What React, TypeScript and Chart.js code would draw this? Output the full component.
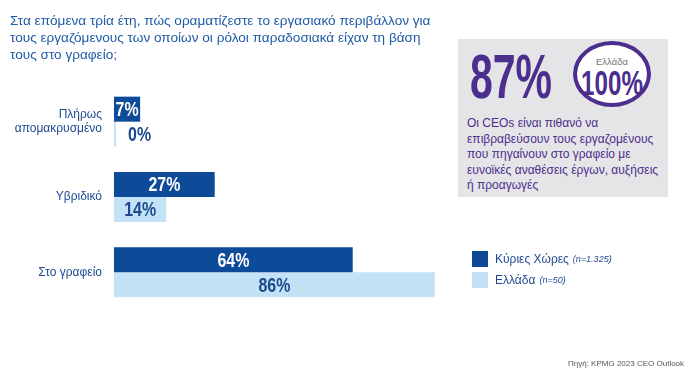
import React, { useEffect, useRef } from "react";
import { Chart, registerables } from "chart.js";

Chart.register(...registerables);

const categories: (string | string[])[] = [["Πλήρως", "απομακρυσμένο"], "Υβριδικό", "Στο γραφείο"];
const mainCountries = [7, 27, 64];
const greece = [0, 14, 86];
const seriesNames = ["Κύριες Χώρες", "Ελλάδα"];
const seriesNotes = ["(n=1.325)", "(n=50)"];
const titleLines = [
  "Στα επόμενα τρία έτη, πώς οραματίζεστε το εργασιακό περιβάλλον για",
  "τους εργαζόμενους των οποίων οι ρόλοι παραδοσιακά είχαν τη βάση",
  "τους στο γραφείο;",
];
const panelBig = "87%";
const panelCircleLabel = "Ελλάδα";
const panelCircleValue = "100%";
const panelLines = [
  "Οι CEOs είναι πιθανό να",
  "επιβραβεύσουν τους εργαζομένους",
  "που πηγαίνουν στο γραφείο με",
  "ευνοϊκές αναθέσεις έργων, αυξήσεις",
  "ή προαγωγές",
];
const sourceText = "Πηγή: KPMG 2023 CEO Outlook";

const DARK = "#0d4a98";
const LIGHT = "#c4e2f6";
const TEXTBLUE = "#1f4a92";
const PURPLE = "#4b2e8e";
const SANS = "'Liberation Sans', Arial, sans-serif";
const LABEL_SCALE = 0.76;

const labelPlugin = {
  id: "barLabels",
  afterDatasetsDraw(chart: any) {
    const ctx = chart.ctx;
    ctx.save();
    ctx.font = `bold 21px ${SANS}`;
    ctx.textBaseline = "middle";
    chart.data.datasets.forEach((ds: any, di: number) => {
      const meta = chart.getDatasetMeta(di);
      meta.data.forEach((el: any, i: number) => {
        const v = ds.data[i];
        const txt = `${v}%`;
        const w = ctx.measureText(txt).width * LABEL_SCALE;
        const left = Math.min(el.base, el.x);
        const right = Math.max(el.base, el.x);
        const barW = right - left;
        let cx: number;
        if (barW >= w + 1) {
          cx = (left + right) / 2;
          ctx.fillStyle = di === 0 ? "#ffffff" : "#1b4a8e";
        } else {
          cx = right + 12 + w / 2;
          ctx.fillStyle = "#1b4a8e";
        }
        ctx.save();
        ctx.translate(cx, el.y + 1);
        ctx.scale(LABEL_SCALE, 1);
        ctx.textAlign = "center";
        ctx.fillText(txt, 0, 0);
        ctx.restore();
      });
    });
    ctx.restore();
  },
};

export default function App() {
  const ref = useRef<HTMLCanvasElement | null>(null);
  useEffect(() => {
    if (!ref.current) return;
    const chart = new Chart(ref.current, {
      type: "bar",
      data: {
        labels: categories,
        datasets: [
          {
            label: seriesNames[0],
            data: mainCountries,
            backgroundColor: DARK,
            categoryPercentage: 0.664,
            barPercentage: 1,
          },
          {
            label: seriesNames[1],
            data: greece,
            backgroundColor: LIGHT,
            categoryPercentage: 0.664,
            barPercentage: 1,
            minBarLength: 2,
          },
        ],
      },
      options: {
        indexAxis: "y",
        animation: false,
        responsive: false,
        maintainAspectRatio: false,
        layout: { padding: { top: 84, bottom: 72, right: 213, left: 0 } },
        plugins: {
          legend: { display: false },
          tooltip: { enabled: false },
          title: { display: false },
        },
        scales: {
          x: { display: false, min: 0, max: 100 },
          y: {
            grid: { display: false, drawTicks: false },
            border: { display: false },
            ticks: {
              color: TEXTBLUE,
              font: { family: SANS, size: 12, lineHeight: 1.15 },
              padding: 12,
            },
            afterFit(scale: any) {
              scale.width = 114;
            },
          },
        },
      },
      plugins: [labelPlugin],
    } as any);
    return () => chart.destroy();
  }, []);

  return (
    <div style={{ position: "absolute", left: 0, top: 0, width: 700, height: 382, background: "#fff", overflow: "hidden", fontFamily: SANS }}>
      <canvas ref={ref} width={700} height={382} style={{ position: "absolute", left: 0, top: 0 }} />
      <div style={{ position: "absolute", left: 10, top: 12, color: "#1f5aa6", fontSize: 13.6, lineHeight: "17px", whiteSpace: "nowrap" }}>
        {titleLines.map((l, i) => (
          <div key={i}>{l}</div>
        ))}
      </div>
      <div style={{ position: "absolute", left: 458, top: 39, width: 210, height: 158, background: "#e5e5e7" }}>
        <div style={{ position: "absolute", left: 12, top: 2, color: PURPLE, fontWeight: "bold", fontSize: 63, lineHeight: "70px", transform: "scaleX(0.65)", transformOrigin: "left center", whiteSpace: "nowrap" }}>
          {panelBig}
        </div>
        <div style={{ position: "absolute", left: 115, top: 2, width: 70, height: 58, border: `4px solid ${PURPLE}`, borderRadius: "50%", background: "#fff" }}>
          <div style={{ position: "absolute", left: 0, width: 70, top: 11, textAlign: "center", color: "#777", fontSize: 9.5, lineHeight: "11px" }}>{panelCircleLabel}</div>
          <div style={{ position: "absolute", left: -10, width: 90, top: 19, textAlign: "center", color: PURPLE, fontWeight: "bold", fontSize: 35, lineHeight: "38px", transform: "scaleX(0.69)", whiteSpace: "nowrap" }}>
            {panelCircleValue}
          </div>
        </div>
        <div style={{ position: "absolute", left: 9, top: 77, color: PURPLE, fontSize: 12, lineHeight: "15.6px", whiteSpace: "nowrap" }}>
          {panelLines.map((l, i) => (
            <div key={i}>{l}</div>
          ))}
        </div>
      </div>
      {[0, 1].map((i) => (
        <div key={i} style={{ position: "absolute", left: 472, top: 251 + i * 21, height: 16, display: "flex", alignItems: "center", whiteSpace: "nowrap" }}>
          <div style={{ width: 16, height: 16, background: i === 0 ? DARK : LIGHT, marginRight: 7 }} />
          <span style={{ color: TEXTBLUE, fontSize: 12 }}>{seriesNames[i]}</span>
          <span style={{ color: TEXTBLUE, fontSize: 9, fontStyle: "italic", marginLeft: 4 }}>{seriesNotes[i]}</span>
        </div>
      ))}
      <div style={{ position: "absolute", left: 568, top: 359, color: "#555", fontSize: 8, whiteSpace: "nowrap" }}>{sourceText}</div>
    </div>
  );
}
